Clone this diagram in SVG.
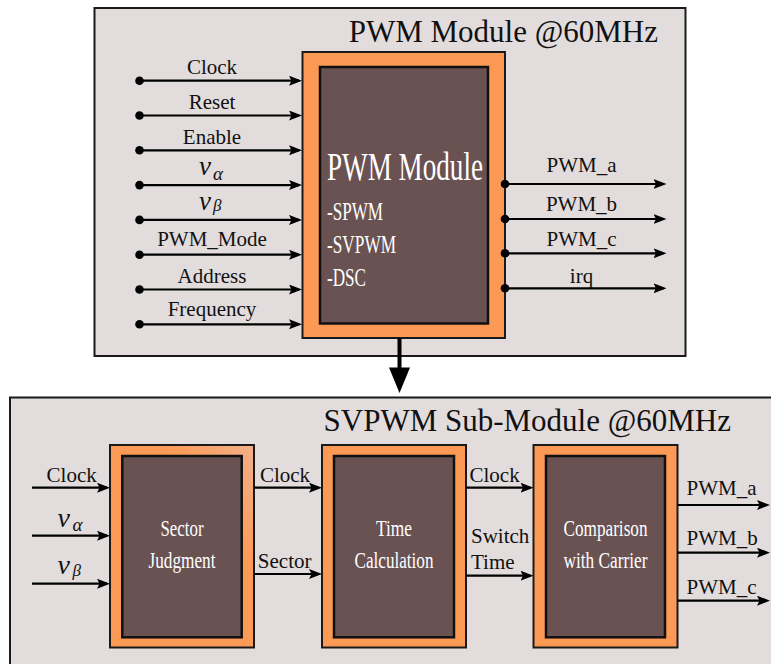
<svg xmlns="http://www.w3.org/2000/svg" width="771" height="664" viewBox="0 0 771 664">
<defs>
<marker id="ah" viewBox="0 0 13 10" refX="10" refY="5" markerWidth="13" markerHeight="10" markerUnits="userSpaceOnUse" orient="auto">
<path d="M0,0 L13,5 L0,10 L2.5,5 z" fill="#000"/>
</marker>
<linearGradient id="og" x1="0" y1="1" x2="1" y2="0">
<stop offset="0" stop-color="#fc9a55"/>
<stop offset="0.7" stop-color="#fb9b58"/>
<stop offset="1" stop-color="#f2b08a"/>
</linearGradient>
<style>
.panel{fill:#e2dcdc;stroke:#1a1a1a;stroke-width:2}
.outer{fill:#fc9a55;stroke:#1a1a1a;stroke-width:2}
.inner{fill:#6a5253;stroke:#111;stroke-width:2.5}
.lbl{font-family:"Liberation Serif","Times New Roman",serif;font-size:21px;fill:#111}
.ttl{font-family:"Liberation Serif","Times New Roman",serif;font-size:31px;fill:#111}
.wt{font-family:"Liberation Serif","Times New Roman",serif;fill:#fff}
.mv{font-family:"Liberation Serif","Times New Roman",serif;font-style:italic;fill:#111}
.ln{stroke:#000;stroke-width:2.2;fill:none}
.dot{fill:#000}
</style>
</defs>

<g id="pwm-panel">
<rect class="panel" x="94.5" y="8" width="591" height="348"/>
<text class="ttl" x="658" y="41.5" text-anchor="end">PWM Module @60MHz</text>
</g>

<g id="pwm-module">
<rect class="outer" x="302.5" y="52" width="202.5" height="286"/>
<rect class="inner" x="320" y="67" width="168" height="256.5"/>
<text class="wt" x="327" y="180" font-size="39" textLength="156" lengthAdjust="spacingAndGlyphs">PWM Module</text>
<text class="wt" x="327" y="220" font-size="25" textLength="56" lengthAdjust="spacingAndGlyphs">-SPWM</text>
<text class="wt" x="327" y="253" font-size="25" textLength="69" lengthAdjust="spacingAndGlyphs">-SVPWM</text>
<text class="wt" x="327" y="286" font-size="25" textLength="39" lengthAdjust="spacingAndGlyphs">-DSC</text>
</g>

<g id="svpwm-panel">
<rect class="panel" x="10" y="397.5" width="780" height="290"/>
<text class="ttl" x="731" y="430.5" text-anchor="end">SVPWM Sub-Module @60MHz</text>
</g>

<g id="sector-judgment">
<rect x="110" y="445" width="144" height="202.5" fill="url(#og)" stroke="#1a1a1a" stroke-width="2"/>
<rect class="inner" x="122.3" y="456" width="119.4" height="181.3"/>
<text class="wt" x="182" y="536" font-size="24" text-anchor="middle" textLength="43" lengthAdjust="spacingAndGlyphs">Sector</text>
<text class="wt" x="182" y="568" font-size="24" text-anchor="middle" textLength="67" lengthAdjust="spacingAndGlyphs">Judgment</text>
</g>

<g id="time-calculation">
<rect class="outer" x="322" y="445" width="144" height="202.5"/>
<rect class="inner" x="334" y="456" width="120" height="181.3"/>
<text class="wt" x="394" y="536" font-size="24" text-anchor="middle" textLength="36" lengthAdjust="spacingAndGlyphs">Time</text>
<text class="wt" x="394" y="568" font-size="24" text-anchor="middle" textLength="79" lengthAdjust="spacingAndGlyphs">Calculation</text>
</g>

<g id="comparison-carrier">
<rect class="outer" x="533.5" y="445" width="144" height="202.5"/>
<rect class="inner" x="546" y="456" width="119" height="181.3"/>
<text class="wt" x="605.5" y="536" font-size="24" text-anchor="middle" textLength="84" lengthAdjust="spacingAndGlyphs">Comparison</text>
<text class="wt" x="605.5" y="568" font-size="24" text-anchor="middle" textLength="84" lengthAdjust="spacingAndGlyphs">with Carrier</text>
</g>

<g id="connectors">
<g marker-end="url(#ah)">
<line class="ln" x1="139.5" y1="80.7" x2="299" y2="80.7"/>
<line class="ln" x1="139.5" y1="115.5" x2="299" y2="115.5"/>
<line class="ln" x1="139.5" y1="150.3" x2="299" y2="150.3"/>
<line class="ln" x1="139.5" y1="185.1" x2="299" y2="185.1"/>
<line class="ln" x1="139.5" y1="219.9" x2="299" y2="219.9"/>
<line class="ln" x1="139.5" y1="254.7" x2="299" y2="254.7"/>
<line class="ln" x1="139.5" y1="289.5" x2="299" y2="289.5"/>
<line class="ln" x1="139.5" y1="324.3" x2="299" y2="324.3"/>
</g>
<circle class="dot" cx="139.5" cy="80.7" r="4.3"/>
<circle class="dot" cx="139.5" cy="115.5" r="4.3"/>
<circle class="dot" cx="139.5" cy="150.3" r="4.3"/>
<circle class="dot" cx="139.5" cy="185.1" r="4.3"/>
<circle class="dot" cx="139.5" cy="219.9" r="4.3"/>
<circle class="dot" cx="139.5" cy="254.7" r="4.3"/>
<circle class="dot" cx="139.5" cy="289.5" r="4.3"/>
<circle class="dot" cx="139.5" cy="324.3" r="4.3"/>
<text class="lbl" x="212" y="74" text-anchor="middle">Clock</text>
<text class="lbl" x="212" y="109" text-anchor="middle">Reset</text>
<text class="lbl" x="212" y="144" text-anchor="middle">Enable</text>
<text class="mv" x="199" y="175" font-size="27">v</text>
<text class="mv" x="213" y="180" font-size="19">α</text>
<text class="mv" x="199" y="209.5" font-size="27">v</text>
<text class="mv" x="213" y="211" font-size="17">β</text>
<text class="lbl" x="212" y="246" text-anchor="middle">PWM_Mode</text>
<text class="lbl" x="212" y="282.7" text-anchor="middle">Address</text>
<text class="lbl" x="212" y="316" text-anchor="middle">Frequency</text>

<g marker-end="url(#ah)">
<line class="ln" x1="505" y1="184" x2="663.5" y2="184"/>
<line class="ln" x1="505" y1="219" x2="663.5" y2="219"/>
<line class="ln" x1="505" y1="253.3" x2="663.5" y2="253.3"/>
<line class="ln" x1="505" y1="288.3" x2="663.5" y2="288.3"/>
</g>
<circle class="dot" cx="505" cy="184" r="4.3"/>
<circle class="dot" cx="505" cy="219" r="4.3"/>
<circle class="dot" cx="505" cy="253.3" r="4.3"/>
<circle class="dot" cx="505" cy="288.3" r="4.3"/>
<text class="lbl" x="581.5" y="172" text-anchor="middle">PWM_a</text>
<text class="lbl" x="581.5" y="210.5" text-anchor="middle">PWM_b</text>
<text class="lbl" x="581.5" y="245.5" text-anchor="middle">PWM_c</text>
<text class="lbl" x="581.5" y="283.3" text-anchor="middle">irq</text>

<line x1="399.5" y1="338" x2="399.5" y2="372" stroke="#000" stroke-width="4"/>
<polygon points="389,367.5 410,367.5 399.5,393" fill="#000"/>

<g marker-end="url(#ah)">
<line class="ln" x1="32" y1="487.7" x2="107" y2="487.7"/>
<line class="ln" x1="32" y1="535.7" x2="107" y2="535.7"/>
<line class="ln" x1="32" y1="583.7" x2="107" y2="583.7"/>
<line class="ln" x1="254" y1="487.7" x2="319" y2="487.7"/>
<line class="ln" x1="254" y1="574" x2="319" y2="574"/>
<line class="ln" x1="466" y1="487.7" x2="530.5" y2="487.7"/>
<line class="ln" x1="466" y1="575.7" x2="530.5" y2="575.7"/>
<line class="ln" x1="677.5" y1="505" x2="767" y2="505"/>
<line class="ln" x1="677.5" y1="552.7" x2="767" y2="552.7"/>
<line class="ln" x1="677.5" y1="600.7" x2="767" y2="600.7"/>
</g>
<text class="lbl" x="71.7" y="482" text-anchor="middle">Clock</text>
<text class="mv" x="57.5" y="526.7" font-size="28">v</text>
<text class="mv" x="72.5" y="531" font-size="19">α</text>
<text class="mv" x="57.5" y="574" font-size="28">v</text>
<text class="mv" x="72.5" y="576" font-size="17">β</text>
<text class="lbl" x="285" y="482" text-anchor="middle">Clock</text>
<text class="lbl" x="284.7" y="568" text-anchor="middle">Sector</text>
<text class="lbl" x="469.5" y="482">Clock</text>
<text class="lbl" x="471" y="542.5">Switch</text>
<text class="lbl" x="471" y="568.5">Time</text>
<text class="lbl" x="686.5" y="495">PWM_a</text>
<text class="lbl" x="686.5" y="545">PWM_b</text>
<text class="lbl" x="686.5" y="593.5">PWM_c</text>
</g>
</svg>
